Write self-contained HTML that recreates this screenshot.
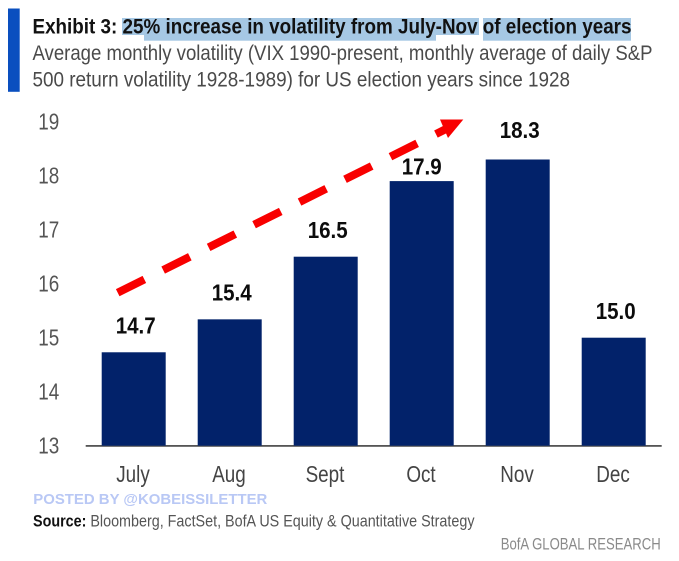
<!DOCTYPE html>
<html lang="en">
<head>
<meta charset="utf-8">
<title>Exhibit 3: Volatility in election years</title>
<style>
html,body{margin:0;padding:0;background:#fff;}
#wrap{position:relative;width:679px;height:561px;overflow:hidden;background:#fff;}
svg{display:block;position:absolute;left:0;top:0;font-family:"Liberation Sans",sans-serif;}
</style>
</head>
<body>
<div id="wrap">
<svg id="chart" width="679" height="561" viewBox="0 0 679 561" xmlns="http://www.w3.org/2000/svg">
  <rect x="8" y="8.5" width="11.7" height="83.3" fill="#0a4fbf"/>
  <g fill="#a6c8e4">
    <rect x="122" y="18" width="22" height="17"/>
    <rect x="144" y="18" width="292" height="22.7"/>
    <rect x="436" y="18" width="43" height="17"/>
    <rect x="483" y="18" width="148" height="22.7"/>
  </g>
  <text x="32.5" y="33.5" font-size="21.5" font-weight="700" fill="#111" textLength="599" lengthAdjust="spacingAndGlyphs">Exhibit 3: 25% increase in volatility from July-Nov of election years</text>
  <text x="32.5" y="60" font-size="21" fill="#4a4a4a" textLength="620" lengthAdjust="spacingAndGlyphs">Average monthly volatility (VIX 1990-present, monthly average of daily S&amp;P</text>
  <text x="32.5" y="86.5" font-size="21" fill="#4a4a4a" textLength="537.5" lengthAdjust="spacingAndGlyphs">500 return volatility 1928-1989) for US election years since 1928</text>

  <g id="y-axis"></g>
  <rect x="85.7" y="445" width="576" height="1.8" fill="#555"/>
  <g id="bars"></g>
  <g id="x-axis"></g>

  <g>
    <line x1="117.7" y1="292.7" x2="448" y2="128" stroke="#f80000" stroke-width="8" stroke-dasharray="29.8 21"/>
    <polygon points="463.3,119.5 440,119.5 448,138" fill="#f80000"/>
  </g>

  <text x="33.3" y="504" font-size="15" font-weight="700" fill="#b9c8f5" textLength="234" lengthAdjust="spacingAndGlyphs">POSTED BY @KOBEISSILETTER</text>
  <text x="33" y="526.5" font-size="16.5" fill="#555" textLength="441.5" lengthAdjust="spacingAndGlyphs"><tspan font-weight="700" fill="#111">Source:</tspan> Bloomberg, FactSet, BofA US Equity &amp; Quantitative Strategy</text>
  <text x="500.7" y="549.3" font-size="17" fill="#8a8a8a" textLength="160" lengthAdjust="spacingAndGlyphs">BofA GLOBAL RESEARCH</text>
</svg>
</div>
<script>
const categories = ["July", "Aug", "Sept", "Oct", "Nov", "Dec"];
const volatility = [14.73, 15.34, 16.5, 17.9, 18.3, 15.0];
const valueLabels = ["14.7", "15.4", "16.5", "17.9", "18.3", "15.0"];
const yTicks = [13, 14, 15, 16, 17, 18, 19];

const NS = "http://www.w3.org/2000/svg";
function yScale(v) { return 445.7 - (v - 13) * 54; }
function xScale(i) { return 133.7 + i * 96; }
function labelGap(name) {
  if (name === "Oct") return 6.7;
  if (name === "Nov") return 21.7;
  return 18.7;
}
function labelShift(name) {
  if (name === "Oct") return 0;
  return 2;
}
function make(tag, attrs, text) {
  const el = document.createElementNS(NS, tag);
  for (const k in attrs) el.setAttribute(k, attrs[k]);
  if (text !== undefined) el.textContent = text;
  return el;
}

const yGroup = document.getElementById("y-axis");
yTicks.forEach(function (t) {
  const el = make("text", {
    x: 38.3, y: yScale(t) + 8, "font-size": 23, fill: "#555",
    textLength: 21, lengthAdjust: "spacingAndGlyphs"
  }, String(t));
  
  
  yGroup.appendChild(el);
});

const barGroup = document.getElementById("bars");
const xGroup = document.getElementById("x-axis");
const barWidth = 64;
categories.forEach(function (name, i) {
  const top = yScale(volatility[i]);
  const bar = make("rect", {
    x: xScale(i) - barWidth / 2, y: top,
    width: barWidth, height: yScale(13) - top, fill: "#02226a"
  });
  
  
  barGroup.appendChild(bar);

  const value = make("text", {
    x: xScale(i) + labelShift(name), y: top - labelGap(name), "text-anchor": "middle",
    "font-size": 23, "font-weight": 700, fill: "#0c0c0c",
    textLength: 40, lengthAdjust: "spacingAndGlyphs"
  }, valueLabels[i]);
  
  
  barGroup.appendChild(value);

  const cx = xScale(i) - 0.7;
  const label = make("text", {
    x: cx, y: 482, "text-anchor": "middle",
    "font-size": 23, fill: "#444"
  }, name);
  
  
  label.setAttribute('transform', 'translate(' + cx + ' 0) scale(0.82 1) translate(' + (-cx) + ' 0)');
  xGroup.appendChild(label);
});
</script>
</body>
</html>
